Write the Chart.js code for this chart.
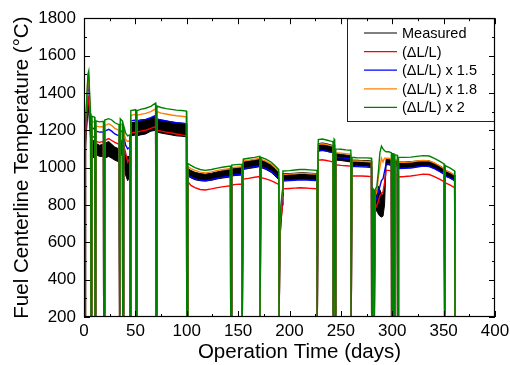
<!DOCTYPE html>
<html>
<head>
<meta charset="utf-8">
<script src="https://cdn.jsdelivr.net/npm/chart.js@4.4.1/dist/chart.umd.min.js"></script>
<style>
  body { margin: 0; background: #fff; }
  #wrap { width: 510px; height: 365px; }
</style>
</head>
<body>
<div id="wrap"><canvas id="chart"></canvas></div>
<script>
// operation time (days); pairs of repeated points at each shutdown
const days = [
  1.0, 1.4, 2.5, 3.8, 4.6, 5.6, 6.4,  6.8, 7.5,
  7.8, 10.4,  10.7, 11.4,
  11.7, 15, 18.9,  19.2, 19.9,
  20.2, 24, 27, 30, 34.1,  34.4, 35.0,
  35.3, 37.4,  37.7, 38.3,
  38.6, 40.5, 42.5, 44.5,  44.8, 45.4,
  45.7, 50.3,  50.6, 51.2,
  51.5, 55, 60, 65, 69.7,  70.0, 70.7,
  71, 75, 80, 85, 90, 95, 99.7,  100.0, 100.8,
  101.1, 104, 108, 113, 118, 124, 130, 136, 142.5,  142.8, 143.5,
  143.8, 148, 153.7,  154.0, 154.7,
  155, 160, 166, 171,  171.3, 172.0,
  172.3, 177, 182, 186, 189.5,  189.8, 190.5,
  190.8, 192, 193.2,
  193.6, 200, 205, 210, 215, 220, 226.7,  227.0, 227.7,
  228, 232, 236, 240, 242.3,  242.6, 243.2,
  243.5, 244.0,  244.3, 244.9,
  245.2, 250, 255, 259.7,  260.0, 260.6,
  260.9, 265, 270, 275, 279.7,  280.0, 280.6,
  280.9, 282.2,  282.5, 283.1,
  283.4, 285, 286.5, 288, 289.5, 291, 292.5, 294, 296.5, 299.1,  299.4, 300.0,
  300.3, 301.4,  301.7, 302.3,
  302.6, 304.9,  305.2, 305.8,
  306.1, 312, 318, 324, 330, 336, 341, 346, 350.4,  350.7, 351.3,
  351.6, 356, 360.7,  361.0, 361.6
];

// measured centerline temperature, upper and lower edge of the scatter band
const measuredHi = [
  200, 1180, 1280, 1380, 1370, 1300, 1250,  215, 215,
  1150, 1140,  215, 215,
  1130, 1120, 1125,  215, 215,
  1130, 1140, 1125, 1110, 1100,  215, 215,
  1150, 1140,  215, 215,
  1120, 1060, 1060, 1060,  215, 215,
  1240, 1245,  215, 215,
  1245, 1250, 1255, 1265, 1275,  215, 215,
  1260, 1255, 1250, 1245, 1240, 1238, 1235,  215, 215,
  995, 985, 975, 968, 965, 970, 978, 985, 990,  215, 215,
  995, 998, 1000,  215, 215,
  1030, 1035, 1040, 1045,  215, 215,
  1040, 1030, 1015, 995, 975,  215, 215,
  680, 800, 860,
  968, 968, 970, 972, 972, 970, 968,  215, 215,
  1128, 1132, 1128, 1122, 1118,  215, 215,
  1120, 1115,  215, 215,
  1075, 1072, 1068, 1065,  215, 215,
  1040, 1040, 1038, 1038, 1035,  215, 215,
  830, 820,  215, 215,
  860, 880, 900, 880, 860, 850, 900, 1045, 1045, 1040,  215, 215,
  1040, 1040,  215, 215,
  1038, 1038,  215, 215,
  1030, 1030, 1032, 1035, 1038, 1036, 1025, 1010, 995,  215, 215,
  985, 975, 960,  215, 215
];
const measuredLo = [
  200, 1100, 1200, 1300, 1290, 1220, 1150,  215, 215,
  1060, 1050,  215, 215,
  1070, 1060, 1060,  215, 215,
  1050, 1060, 1050, 1040, 1030,  215, 215,
  1080, 1060,  215, 215,
  1030, 960, 930, 950,  215, 215,
  1170, 1175,  215, 215,
  1170, 1175, 1180, 1195, 1200,  215, 215,
  1190, 1185, 1180, 1175, 1170, 1168, 1165,  215, 215,
  955, 945, 935, 930, 928, 932, 940, 945, 950,  215, 215,
  955, 958, 960,  215, 215,
  990, 995, 1000, 1005,  215, 215,
  1000, 990, 975, 955, 935,  215, 215,
  620, 720, 800,
  932, 933, 935, 937, 937, 935, 933,  215, 215,
  1088, 1092, 1088, 1082, 1078,  215, 215,
  1080, 1075,  215, 215,
  1040, 1038, 1034, 1030,  215, 215,
  1010, 1010, 1008, 1008, 1005,  215, 215,
  760, 750,  215, 215,
  760, 770, 750, 740, 735, 740, 800, 1015, 1015, 1010,  215, 215,
  1010, 1010,  215, 215,
  1008, 1008,  215, 215,
  1000, 1000, 1002, 1005, 1008, 1006, 995, 980, 965,  215, 215,
  955, 945, 930,  215, 215
];

// calculated with (dL/L)
const ratio1 = [
  150, 1150, 1260, 1370, 1380, 1280, 1200,  150, 150,
  1170, 1160,  150, 150,
  1140, 1135, 1140,  150, 150,
  1145, 1155, 1145, 1135, 1125,  150, 150,
  1150, 1140,  150, 150,
  1120, 1080, 1030, 1050,  150, 150,
  1185, 1190,  150, 150,
  1190, 1195, 1200, 1210, 1220,  150, 150,
  1200, 1195, 1190, 1185, 1180, 1175, 1170,  150, 150,
  925, 905, 893, 883, 880, 886, 893, 898, 903,  150, 150,
  907, 910, 912,  150, 150,
  938, 942, 948, 952,  150, 150,
  946, 940, 930, 920, 910,  150, 150,
  640, 730, 800,
  886, 888, 890, 892, 891, 889, 887,  150, 150,
  1040, 1042, 1038, 1033, 1030,  150, 150,
  1035, 1030,  150, 150,
  1015, 1012, 1010, 1008,  150, 150,
  955, 955, 955, 954, 952,  150, 150,
  800, 790,  150, 150,
  780, 800, 820, 850, 860, 870, 920, 985, 985, 982,  150, 150,
  975, 975,  150, 150,
  965, 962,  150, 150,
  950, 952, 955, 960, 965, 963, 952, 938, 925,  150, 150,
  918, 908, 893,  150, 150
];
// (dL/L) x 1.5
const ratio15 = [
  150, 1200, 1300, 1440, 1460, 1330, 1240,  150, 150,
  1215, 1205,  150, 150,
  1195, 1190, 1192,  150, 150,
  1195, 1205, 1195, 1180, 1170,  150, 150,
  1200, 1190,  150, 150,
  1170, 1120, 1100, 1110,  150, 150,
  1250, 1255,  150, 150,
  1250, 1255, 1258, 1268, 1280,  150, 150,
  1260, 1255, 1250, 1245, 1240, 1238, 1235,  150, 150,
  960, 950, 940, 932, 930, 935, 943, 950, 955,  150, 150,
  960, 962, 965,  150, 150,
  995, 1000, 1005, 1010,  150, 150,
  1005, 995, 980, 962, 945,  150, 150,
  680, 780, 850,
  928, 930, 932, 934, 934, 932, 930,  150, 150,
  1090, 1092, 1088, 1083, 1080,  150, 150,
  1085, 1080,  150, 150,
  1055, 1052, 1050, 1048,  150, 150,
  1005, 1005, 1004, 1003, 1000,  150, 150,
  830, 820,  150, 150,
  820, 840, 870, 900, 930, 940, 980, 1020, 1020, 1015,  150, 150,
  1015, 1015,  150, 150,
  1010, 1008,  150, 150,
  995, 996, 998, 1003, 1008, 1006, 995, 980, 965,  150, 150,
  955, 945, 930,  150, 150
];
// (dL/L) x 1.8
const ratio18 = [
  150, 1220, 1330, 1480, 1490, 1360, 1270,  150, 150,
  1250, 1240,  150, 150,
  1222, 1218, 1220,  150, 150,
  1225, 1235, 1225, 1210, 1200,  150, 150,
  1235, 1225,  150, 150,
  1200, 1150, 1140, 1145,  150, 150,
  1280, 1285,  150, 150,
  1280, 1285, 1290, 1300, 1315,  150, 150,
  1300, 1292, 1287, 1282, 1278, 1275, 1272,  150, 150,
  1005, 995, 985, 976, 972, 977, 985, 990, 995,  150, 150,
  1000, 1002, 1005,  150, 150,
  1035, 1040, 1045, 1050,  150, 150,
  1045, 1035, 1020, 1000, 980,  150, 150,
  700, 800, 870,
  963, 965, 967, 969, 969, 967, 965,  150, 150,
  1125, 1128, 1124, 1118, 1115,  150, 150,
  1125, 1120,  150, 150,
  1080, 1077, 1074, 1072,  150, 150,
  1035, 1035, 1034, 1033, 1030,  150, 150,
  860, 850,  150, 150,
  850, 870, 950, 1000, 1050, 1030, 1050, 1050, 1050, 1046,  150, 150,
  1045, 1045,  150, 150,
  1042, 1040,  150, 150,
  1028, 1028, 1030, 1035, 1038, 1036, 1025, 1010, 995,  150, 150,
  985, 975, 960,  150, 150
];
// (dL/L) x 2
const ratio2 = [
  150, 1240, 1350, 1500, 1517, 1380, 1290,  150, 150,
  1275, 1270,  150, 150,
  1250, 1245, 1248,  150, 150,
  1255, 1262, 1255, 1240, 1230,  150, 150,
  1262, 1250,  150, 150,
  1225, 1185, 1170, 1175,  150, 150,
  1305, 1310,  150, 150,
  1305, 1312, 1318, 1328, 1345,  150, 150,
  1330, 1322, 1316, 1312, 1308, 1306, 1303,  150, 150,
  1022, 1012, 1000, 990, 985, 990, 997, 1003, 1008,  150, 150,
  1013, 1016, 1018,  150, 150,
  1045, 1050, 1055, 1060,  150, 150,
  1055, 1045, 1030, 1010, 990,  150, 150,
  720, 820, 880,
  982, 984, 987, 990, 990, 988, 985,  150, 150,
  1150, 1153, 1148, 1142, 1140,  150, 150,
  1152, 1148,  150, 150,
  1100, 1098, 1095, 1093,  150, 150,
  1055, 1053, 1052, 1052, 1050,  150, 150,
  890, 880,  150, 150,
  880, 900, 980, 1080, 1115, 1100, 1090, 1085, 1085, 1080,  150, 150,
  1075, 1075,  150, 150,
  1068, 1066,  150, 150,
  1055, 1055, 1056, 1060, 1064, 1062, 1050, 1035, 1020,  150, 150,
  1010, 998, 982,  150, 150
];

const xTicks = [0, 50, 100, 150, 200, 250, 300, 350, 400];
const yTicks = [200, 400, 600, 800, 1000, 1200, 1400, 1600, 1800];

const seriesLabels = ['Measured', '(ΔL/L)', '(ΔL/L) x 1.5', '(ΔL/L) x 1.8', '(ΔL/L) x 2'];
const xTitle = 'Operation Time (days)';
const yTitle = 'Fuel Centerline Temperature (°C)';

const FONT = '"Liberation Sans", Arial, Helvetica, sans-serif';
Chart.defaults.font.family = FONT;
Chart.defaults.color = '#000';

const pts = ys => days.map((d, i) => ({ x: d, y: ys[i] }));

const line = (label, ys, color, order) => ({
  label: label,
  data: pts(ys),
  borderColor: color,
  backgroundColor: color,
  borderWidth: 1.4,
  pointRadius: 0,
  fill: false,
  tension: 0,
  order: order,
});

// legend box drawn inside the plot, top right
const boxLegend = {
  id: 'boxLegend',
  afterDatasetsDraw(chart) {
    const ctx = chart.ctx;
    const a = chart.chartArea;
    const items = chart.data.datasets.filter(ds => !ds.hideInLegend);
    const left = 347.5, top = a.top + 0.5, right = a.right - 0.5, bottom = 121.5;
    ctx.save();
    ctx.fillStyle = '#fff';
    ctx.fillRect(left, top, right - left, bottom - top);
    ctx.strokeStyle = '#222';
    ctx.lineWidth = 1;
    ctx.strokeRect(left, top, right - left, bottom - top);
    ctx.font = '14.5px ' + FONT;
    ctx.textBaseline = 'middle';
    ctx.textAlign = 'left';
    items.forEach((ds, i) => {
      const yy = 33 + i * 18.6;
      ctx.strokeStyle = ds.borderColor;
      ctx.lineWidth = 1.2;
      ctx.beginPath();
      ctx.moveTo(364, yy);
      ctx.lineTo(397, yy);
      ctx.stroke();
      ctx.fillStyle = '#000';
      ctx.fillText(ds.label, 402, yy + 1);
    });
    ctx.restore();
  }
};

// closed frame with inward ticks on all four sides, plus the x title
const frame = {
  id: 'frame',
  afterDatasetsDraw(chart) {
    const ctx = chart.ctx;
    const a = chart.chartArea;
    const sx = chart.scales.x, sy = chart.scales.y;
    ctx.save();
    ctx.strokeStyle = '#000';
    ctx.lineWidth = 1;
    ctx.beginPath();
    const xv = sx.ticks.map(t => t.value);
    xv.forEach((v, i) => {
      const px = Math.round(sx.getPixelForValue(v)) + 0.5;
      ctx.moveTo(px, a.bottom); ctx.lineTo(px, a.bottom - 6);
      ctx.moveTo(px, a.top); ctx.lineTo(px, a.top + 6);
      if (i < xv.length - 1) {
        const mx = Math.round(sx.getPixelForValue((v + xv[i + 1]) / 2)) + 0.5;
        ctx.moveTo(mx, a.bottom); ctx.lineTo(mx, a.bottom - 3);
        ctx.moveTo(mx, a.top); ctx.lineTo(mx, a.top + 3);
      }
    });
    const yv = sy.ticks.map(t => t.value);
    yv.forEach((v, i) => {
      const py = Math.round(sy.getPixelForValue(v)) + 0.5;
      ctx.moveTo(a.left, py); ctx.lineTo(a.left + 6, py);
      ctx.moveTo(a.right, py); ctx.lineTo(a.right - 6, py);
      if (i < yv.length - 1) {
        const my = Math.round(sy.getPixelForValue((v + yv[i + 1]) / 2)) + 0.5;
        ctx.moveTo(a.left, my); ctx.lineTo(a.left + 3, my);
        ctx.moveTo(a.right, my); ctx.lineTo(a.right - 3, my);
      }
    });
    ctx.stroke();
    ctx.lineWidth = 1.2;
    ctx.strokeRect(Math.round(a.left) + 0.5, Math.round(a.top) + 0.5,
      Math.round(a.right - a.left) - 1, Math.round(a.bottom - a.top) - 1);
    // x axis title sits a little right of the plot centre in the source figure
    ctx.fillStyle = '#000';
    ctx.font = '20.5px ' + FONT;
    ctx.textAlign = 'center';
    ctx.textBaseline = 'middle';
    ctx.fillText(xTitle, (a.left + a.right) / 2 + 10, a.bottom + 35);
    ctx.restore();
  }
};

const ctx = document.getElementById('chart').getContext('2d');
new Chart(ctx, {
  type: 'line',
  data: {
    datasets: [
      Object.assign(line(seriesLabels[0], measuredHi, '#000000', 5), { fill: '+1', borderWidth: 1 }),
      Object.assign(line('measured low', measuredLo, '#000000', 5), { hideInLegend: true, borderWidth: 1 }),
      line(seriesLabels[1], ratio1, '#ff0000', 4),
      line(seriesLabels[2], ratio15, '#0000ff', 3),
      line(seriesLabels[3], ratio18, '#ff8000', 2),
      line(seriesLabels[4], ratio2, '#008000', 1),
    ]
  },
  options: {
    responsive: true,
    maintainAspectRatio: false,
    animation: false,
    layout: { padding: { left: 7, top: 16, right: 15, bottom: 0 } },
    plugins: {
      legend: { display: false },
      tooltip: { enabled: false },
    },
    scales: {
      x: {
        type: 'linear',
        min: 0,
        max: 400,
        afterBuildTicks: s => { s.ticks = xTicks.map(v => ({ value: v })); },
        afterFit: s => { s.height = 48; s.paddingLeft = 0; s.paddingRight = 0; },
        grid: { display: false, drawTicks: false },
        border: { display: false },
        ticks: { font: { size: 17 }, padding: 4, maxRotation: 0, autoSkip: false, callback: v => String(v) },
        title: { display: false, text: xTitle },
      },
      y: {
        type: 'linear',
        min: 200,
        max: 1800,
        afterBuildTicks: s => { s.ticks = yTicks.map(v => ({ value: v })); },
        afterFit: s => { s.width = 77; },
        grid: { display: false, drawTicks: false },
        border: { display: false },
        ticks: { font: { size: 17 }, padding: 8, autoSkip: false, callback: v => String(v) },
        title: { display: true, text: yTitle, font: { size: 20.5 }, padding: 3 },
      }
    }
  },
  plugins: [boxLegend, frame]
});
</script>
</body>
</html>
